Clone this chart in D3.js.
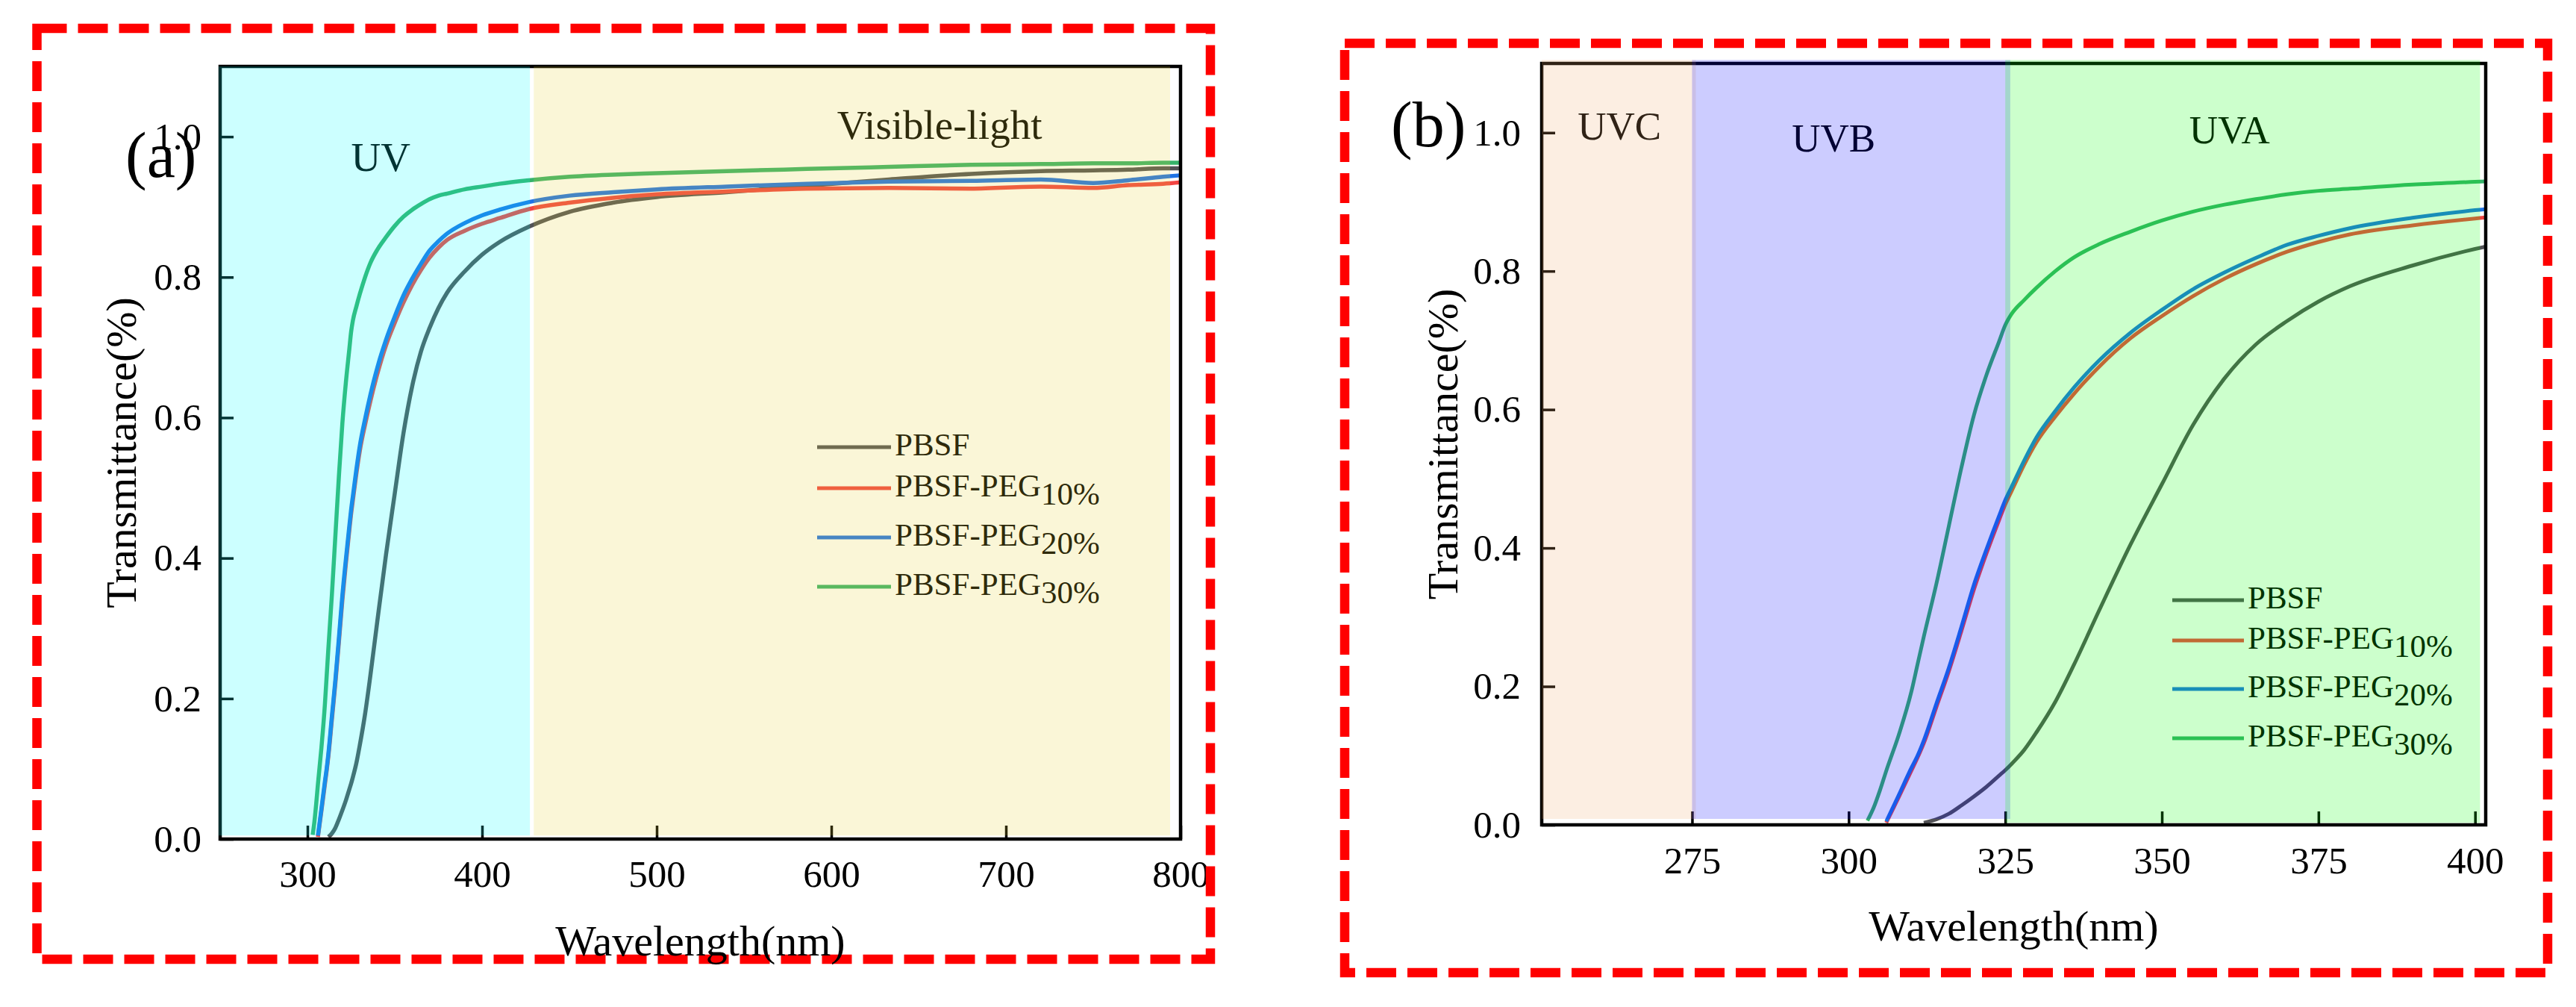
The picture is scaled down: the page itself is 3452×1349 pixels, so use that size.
<!DOCTYPE html>
<html>
<head>
<meta charset="utf-8">
<script src="https://cdn.jsdelivr.net/npm/d3@7"></script>
<style>
html,body{margin:0;padding:0;background:#fff;}
svg{display:block;}
svg text{font-family:"Liberation Serif","Times New Roman",Times,serif;}
</style>
</head>
<body>
<svg id="chart" width="3452" height="1349"></svg>
<script>
// ---------------- DATA ----------------
const wavelengths = [303, 304, 305, 306, 308, 310, 311, 312, 314, 316, 318, 320, 322, 324, 325, 326, 328, 330, 333, 336,
  340, 345, 350, 355, 360, 365, 370, 375, 380, 390, 400, 410, 427, 450, 475, 500, 540, 586, 633, 680, 720, 750, 770, 790, 800];

const pbsf = [null, null, null, null, null, null, null, 0.003, 0.008, 0.016, 0.028, 0.041, 0.055, 0.071, 0.079, 0.088, 0.108, 0.134, 0.178, 0.232,
  0.310, 0.405, 0.492, 0.578, 0.645, 0.694, 0.728, 0.756, 0.778, 0.808, 0.832, 0.850, 0.872, 0.893, 0.906, 0.914, 0.921, 0.930, 0.939, 0.947, 0.951, 0.952, 0.953, 0.955, 0.955];

const peg10 = [null, null, null, 0.003, 0.040, 0.078, 0.097, 0.118, 0.170, 0.222, 0.280, 0.340, 0.392, 0.440, 0.463, 0.482, 0.520, 0.553, 0.590, 0.623,
  0.662, 0.703, 0.735, 0.764, 0.789, 0.810, 0.828, 0.842, 0.853, 0.866, 0.876, 0.884, 0.897, 0.906, 0.913, 0.918, 0.922, 0.926, 0.927, 0.926, 0.929, 0.927, 0.931, 0.933, 0.935];

const peg20 = [null, null, null, 0.005, 0.043, 0.082, 0.100, 0.122, 0.175, 0.227, 0.286, 0.347, 0.398, 0.446, 0.469, 0.488, 0.526, 0.560, 0.598, 0.632,
  0.671, 0.711, 0.744, 0.774, 0.798, 0.819, 0.838, 0.851, 0.862, 0.877, 0.888, 0.896, 0.907, 0.916, 0.921, 0.925, 0.929, 0.933, 0.936, 0.937, 0.939, 0.934, 0.938, 0.943, 0.945];

const peg30 = [0.006, 0.025, 0.050, 0.078, 0.130, 0.192, 0.232, 0.272, 0.348, 0.432, 0.516, 0.592, 0.650, 0.698, 0.722, 0.738, 0.758, 0.776, 0.800, 0.820,
  0.839, 0.857, 0.873, 0.886, 0.896, 0.904, 0.911, 0.916, 0.919, 0.925, 0.929, 0.933, 0.938, 0.943, 0.946, 0.948, 0.951, 0.954, 0.957, 0.960, 0.961, 0.962, 0.962, 0.963, 0.963];

const seriesValues = [pbsf, peg10, peg20, peg30];
const seriesNames = ["PBSF", "PBSF-PEG", "PBSF-PEG", "PBSF-PEG"];
const seriesSubs = ["", "10%", "20%", "30%"];
const seriesColors = ["#525256", "#F24442", "#1E72E6", "#36B26A"];

const xTicksA = [300, 400, 500, 600, 700, 800];
const xTicksB = [275, 300, 325, 350, 375, 400];
const yTicks = [0, 0.2, 0.4, 0.6, 0.8, 1.0];

const bandNamesA = ["UV", "Visible-light"];
const bandFromA = [249.2, 429.6];
const bandToA = [427.4, 794];
const bandColorsA = ["#00FFFF", "#E6D237"];

const bandNamesB = ["UVC", "UVB", "UVA"];
const bandFromB = [251, 275, 325];
const bandToB = [275.6, 325.8, 400.8];
const bandColorsB = ["#F0AA6E", "#0000FF", "#00FF00"];

// ---------------- DRAW ----------------
const FONT = '"Liberation Serif","Times New Roman",Times,serif';
const svg = d3.select("#chart");
const defs = svg.append("defs");

function drawPanel(p) {
  const x = d3.scaleLinear().domain(p.xDomain).range([p.left, p.right]);
  const y = d3.scaleLinear().domain([0, 1.1]).range([p.bottom, p.top]);
  const g = svg.append("g");

  // curves
  defs.append("clipPath").attr("id", "clip" + p.id).append("rect")
    .attr("x", p.left).attr("y", p.top).attr("width", p.right - p.left).attr("height", p.bottom - p.top);
  const line = d3.line().defined(d => d[1] !== null)
    .x(d => x(d[0])).y(d => y(d[1])).curve(d3.curveMonotoneX);
  const cg = g.append("g").attr("clip-path", `url(#clip${p.id})`);
  seriesValues.forEach((vals, i) => {
    cg.append("path").datum(wavelengths.map((w, j) => [w, vals[j]]))
      .attr("d", line).attr("fill", "none").attr("stroke", seriesColors[i])
      .attr("stroke-width", p.lw).attr("stroke-linejoin", "round");
  });

  // frame
  g.append("rect").attr("x", p.left).attr("y", p.top)
    .attr("width", p.right - p.left).attr("height", p.bottom - p.top)
    .attr("fill", "none").attr("stroke", "#000").attr("stroke-width", 4.5);

  // axes
  const xa = g.append("g").attr("transform", `translate(0,${p.bottom})`)
    .call(d3.axisBottom(x).tickValues(p.xTicks).tickSize(-18).tickPadding(p.xPad).tickFormat(d3.format("d")));
  const ya = g.append("g").attr("transform", `translate(${p.left},0)`)
    .call(d3.axisLeft(y).tickValues(yTicks).tickSize(-18).tickPadding(p.yPad).tickFormat(d3.format(".1f")));
  [xa, ya].forEach(a => {
    a.attr("font-family", FONT).attr("font-size", 51);
    a.select(".domain").remove();
    a.selectAll(".tick line").attr("stroke", "#000").attr("stroke-width", 3.5);
    a.selectAll(".tick text").attr("font-family", FONT).attr("font-size", 51).attr("fill", "#000");
  });

  // legend
  const lg = g.append("g");
  seriesNames.forEach((name, i) => {
    const ly = p.legendY + p.legendGaps[i];
    lg.append("line").attr("x1", p.legendX).attr("x2", p.legendX + p.legendLen)
      .attr("y1", ly).attr("y2", ly).attr("stroke", seriesColors[i]).attr("stroke-width", 5);
    const t = lg.append("text").attr("x", p.legendX + p.legendLen + 5).attr("y", ly + 11)
      .attr("font-family", FONT).attr("font-size", 43).attr("fill", "#000");
    t.append("tspan").text(name);
    if (seriesSubs[i]) t.append("tspan").attr("dy", 11).text(seriesSubs[i]);
  });

  // band labels
  p.bandNames.forEach((name, i) => {
    g.append("text").attr("x", x(p.labelAt[i])).attr("y", p.labelY[i])
      .attr("text-anchor", "middle").attr("font-family", FONT).attr("font-size", p.labelSize)
      .attr("fill", "#000").text(name);
  });

  // translucent bands on top
  p.bandNames.forEach((name, i) => {
    g.append("rect").attr("x", x(p.bandFrom[i])).attr("y", y(p.bandTop))
      .attr("width", x(p.bandTo[i]) - x(p.bandFrom[i]))
      .attr("height", y(p.bandBottom[i]) - y(p.bandTop))
      .attr("fill", p.bandColors[i]).attr("fill-opacity", 0.2);
  });

  // dashed border
  svg.append("rect").attr("x", p.border[0]).attr("y", p.border[1])
    .attr("width", p.border[2] - p.border[0]).attr("height", p.border[3] - p.border[1])
    .attr("fill", "none").attr("stroke", "#FF0000").attr("stroke-width", 12.5)
    .attr("stroke-dasharray", "40,15");

  // titles
  svg.append("text").attr("x", (p.left + p.right) / 2).attr("y", p.xTitleY)
    .attr("text-anchor", "middle").attr("font-family", FONT).attr("font-size", 58)
    .attr("fill", "#000").text("Wavelength(nm)");
  svg.append("text").attr("transform", `translate(${p.yTitleX},${(p.top + p.bottom) / 2}) rotate(-90)`)
    .attr("text-anchor", "middle").attr("font-family", FONT).attr("font-size", 58)
    .attr("fill", "#000").text("Transmittance(%)");
  svg.append("text").attr("x", p.tagX).attr("y", p.tagY)
    .attr("font-family", FONT).attr("font-size", 86).attr("fill", "#000").text(p.tag);
}

drawPanel({
  id: "a", tag: "(a)", tagX: 168, tagY: 237,
  xDomain: [250, 800], left: 295, right: 1582, top: 89, bottom: 1124,
  xTicks: xTicksA, xPad: 28, yPad: 25, lw: 5.5,
  legendX: 1095, legendLen: 99, legendY: 599, legendGaps: [0, 55, 121, 187],
  bandNames: bandNamesA, bandFrom: bandFromA, bandTo: bandToA, bandColors: bandColorsA,
  bandTop: 1.1, bandBottom: [0.005, 0.005],
  labelAt: [342, 662], labelY: [229, 186], labelSize: 55,
  border: [49.5, 38, 1622, 1285],
  xTitleY: 1280, yTitleX: 182
});

drawPanel({
  id: "b", tag: "(b)", tagX: 1864, tagY: 196,
  xDomain: [251, 401.7], left: 2066, right: 3331, top: 85, bottom: 1105,
  xTicks: xTicksB, xPad: 29, yPad: 28, lw: 5,
  legendX: 2911, legendLen: 96, legendY: 804, legendGaps: [0, 54, 119, 185],
  bandNames: bandNamesB, bandFrom: bandFromB, bandTo: bandToB, bandColors: bandColorsB,
  bandTop: 1.105, bandBottom: [0.0086, 0.0086, 0.003],
  labelAt: [263.4, 297.6, 360.8], labelY: [187, 203, 192], labelSize: 53,
  border: [1802, 58, 3414, 1303],
  xTitleY: 1260, yTitleX: 1953
});
</script>
</body>
</html>
